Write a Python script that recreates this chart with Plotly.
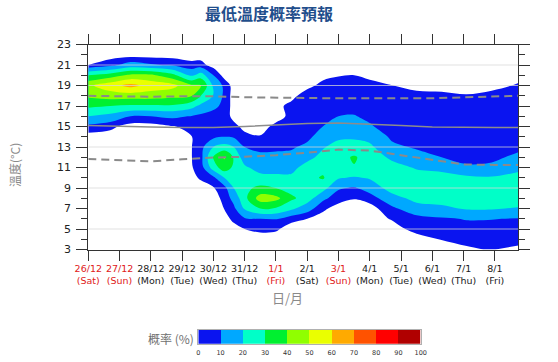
import plotly.graph_objects as go

# ---------------- data ----------------
temps = [3, 4, 5, 6, 7, 8, 9, 10, 11, 12, 13, 14, 15, 16, 17, 18, 19, 20, 21, 22, 23]
# forecast position (days after 26/12) of each probability profile
day_pos = [0, 0.7, 1.35, 2.0, 2.7, 3.3, 3.6, 4.0, 4.35, 4.65, 5.0, 5.5, 6.0, 6.5,
           7.0, 7.5, 8.0, 8.5, 9.0, 9.7, 10.5, 11.3, 12.1, 12.9, 13.75]

# probability (%) of each temperature (rows = temps) for each day position
p00 = [0, 0, 0, 0, 0, 0, 0, 0, 0, 0, 0, 0, 7.7, 20, 32, 42, 48, 30, 3, 0, 0]
p01 = [0, 0, 0, 0, 0, 0, 0, 0, 0, 0, 0, 0, 4.75, 16.7, 30, 45, 56, 35, 7, 0, 0]
p02 = [0, 0, 0, 0, 0, 0, 0, 0, 0, 0, 0, 0, 0, 10, 28.5, 45, 63, 42, 14, 0, 0]
p03 = [0, 0, 0, 0, 0, 0, 0, 0, 0, 0, 0, 0, 0, 10, 28.5, 45, 56, 42, 11, 0, 0]
p04 = [0, 0, 0, 0, 0, 0, 0, 0, 0, 0, 0, 0, 2.6, 11.8, 28.5, 43, 53, 33, 8.6, 0, 0]
p05 = [0, 0, 0, 0, 0, 0, 0, 1, 2.5, 2.8, 2.8, 2.8, 4.9, 9.5, 23.3, 40.5, 42, 17.8, 5, 0, 0]
p06 = [0, 0, 0, 0, 0, 0, 0, 4, 6, 7, 7, 6, 6, 8, 17.5, 30, 41, 25, 5.3, 0, 0]
p07 = [0, 0, 0, 0, 0, 0, 2.5, 8, 25, 31, 20, 8, 6, 7, 12, 19.5, 18, 10, 0, 0, 0]
p08 = [0, 0, 0, 0, 3.2, 5, 7, 20, 36, 41, 24, 10, 7, 8, 8, 8, 8, 0, 0, 0, 0]
p09 = [0, 0, 0, 5, 8, 13, 20, 24, 28, 29, 20, 9, 6, 0, 0, 0, 0, 0, 0, 0, 0]
p10 = [0, 0, 3, 9, 21, 27, 28, 25, 22, 14, 10, 6, 0, 0, 0, 0, 0, 0, 0, 0, 0]
p11 = [0, 0, 4.5, 10, 30, 45, 32, 24, 15, 12, 8, 3.5, 0, 0, 0, 0, 0, 0, 0, 0, 0]
p12 = [0, 0, 4, 10.5, 29, 43, 30, 23, 15, 12, 8.5, 6, 5, 0, 0, 0, 0, 0, 0, 0, 0]
p13 = [0, 0, 0, 5, 22, 32, 26, 22, 17, 12.5, 9, 6, 5, 5, 6, 0, 0, 0, 0, 0, 0]
p14 = [0, 0, 0, 3, 14, 25, 26, 27, 24, 17, 12, 8, 6, 5, 5, 8, 0, 0, 0, 0, 0]
p15 = [0, 0, 0, 0, 4.5, 12, 24, 31, 27, 23, 19, 14, 10, 7, 6, 5, 6, 0, 0, 0, 0]
p16 = [0, 0, 0, 0, 0, 6, 11, 21, 27, 27, 24, 18, 13, 10, 7, 6, 5, 2.7, 0, 0, 0]
p17 = [0, 0, 0, 0, 0, 3.3, 9, 19, 29.5, 31, 24, 18.5, 14, 10.5, 7, 6, 5, 3, 0, 0, 0]
p18 = [0, 0, 0, 0, 0, 6, 14, 21, 26, 26, 22, 17, 11, 8, 6, 5, 5, 1.5, 0, 0, 0]
p19 = [0, 0, 0, 3.5, 8, 16, 24, 26, 24, 18, 12, 8.5, 6, 5, 5, 5, 3.2, 0, 0, 0, 0]
p20 = [0, 0, 5.5, 7, 16, 23, 25, 24, 19, 13, 9, 6, 5, 5, 5, 6, 0, 0, 0, 0, 0]
p21 = [0, 3.3, 6, 9, 18, 24, 25, 24, 17, 10, 7, 6, 5, 5, 5, 5, 0, 0, 0, 0, 0]
p22 = [2, 5, 7, 10.5, 21, 25, 25, 22, 12, 6, 5, 5, 5, 5, 5, 3.5, 0, 0, 0, 0, 0]
p23 = [3.5, 5, 7.5, 10.3, 21, 25, 25, 21, 12, 8, 6, 5, 5, 5, 5, 6, 0, 0, 0, 0, 0]
p24 = [0, 7.5, 8.5, 9.5, 19, 27, 27, 24, 17, 12, 8, 6, 5, 5, 5, 5, 4, 0, 0, 0, 0]

# reference lines (daily)
line_days = [0, 1, 2, 3, 4, 5, 6, 7, 8, 9, 10, 11, 12, 13, 13.75]
mean_line = [15.1, 15.0, 14.95, 14.9, 14.9, 15.0, 15.15, 15.3, 15.35, 15.25, 15.1, 14.95, 14.9, 14.9, 14.9]
upper_line = [18.0, 17.95, 17.9, 17.95, 17.95, 17.85, 17.8, 17.8, 17.75, 17.75, 17.75, 17.75, 17.85, 17.95, 18.0]
lower_line = [11.83, 11.75, 11.6, 11.8, 11.97, 12.05, 12.2, 12.45, 12.75, 12.65, 12.2, 11.75, 11.3, 11.25, 11.25]

# axis labels
tick_days = [0, 1, 2, 3, 4, 5, 6, 7, 8, 9, 10, 11, 12, 13]
tick_dates = ["26/12", "27/12", "28/12", "29/12", "30/12", "31/12", "1/1", "2/1",
              "3/1", "4/1", "5/1", "6/1", "7/1", "8/1"]
tick_wdays = ["(Sat)", "(Sun)", "(Mon)", "(Tue)", "(Wed)", "(Thu)", "(Fri)", "(Sat)",
              "(Sun)", "(Mon)", "(Tue)", "(Wed)", "(Thu)", "(Fri)"]
tick_red = [True, True, False, False, False, False, True, False,
            True, False, False, False, False, False]
y_ticks = [3, 5, 7, 9, 11, 13, 15, 17, 19, 21, 23]
prob_levels = [0, 10, 20, 30, 40, 50, 60, 70, 80, 90, 100]
level_colors = ["#0a14f0", "#00a8ff", "#00ffc8", "#00f030", "#90ff00",
                "#eaff00", "#ffaa00", "#ff5200", "#ff0000", "#b00000"]

# ---------------- geometry (page margin removed by post_script) ----------------
W, H = 558, 362


def px(x):
    return x / W


def py(y):
    return 1 - y / H


# ---------------- build figure ----------------
cols = [p00, p01, p02, p03, p04, p05, p06, p07, p08, p09, p10, p11, p12,
        p13, p14, p15, p16, p17, p18, p19, p20, p21, p22, p23, p24]
z = [[c[i] for c in cols] for i in range(len(temps))]

fig = go.Figure()

# lowest band (blue)
fig.add_trace(go.Contour(
    x=day_pos, y=temps, z=z, autocontour=False,
    contours=dict(start=3, end=3, size=10, coloring="fill", showlines=False),
    colorscale=[[0, "rgba(255,255,255,0)"], [1, level_colors[0]]],
    line=dict(width=0, smoothing=1.0), showscale=False, hoverinfo="skip"))

# bands 10..100
n = len(level_colors) - 1
cs = [[0, "rgba(255,255,255,0)"]] + [[k / n, level_colors[k]] for k in range(1, n + 1)]
fig.add_trace(go.Contour(
    x=day_pos, y=temps, z=z, autocontour=False,
    contours=dict(start=10, end=90, size=10, coloring="fill", showlines=False),
    colorscale=cs, line=dict(width=0, smoothing=1.0), showscale=False, hoverinfo="skip"))

fig.add_trace(go.Scatter(x=line_days, y=upper_line, mode="lines",
                         line=dict(color="#8a8a8a", width=2, dash="8px,5px"), hoverinfo="skip"))
fig.add_trace(go.Scatter(x=line_days, y=lower_line, mode="lines",
                         line=dict(color="#8a8a8a", width=2, dash="8px,5px"), hoverinfo="skip"))
fig.add_trace(go.Scatter(x=line_days, y=mean_line, mode="lines",
                         line=dict(color="#8c8c8c", width=1.5), hoverinfo="skip"))

# colour key drawn as a one-row heatmap on its own axes
bar_cs = []
for k, c in enumerate(level_colors):
    bar_cs.append([k / 10, c])
    bar_cs.append([(k + 1) / 10, c])
bin_mid = [(a + b) / 2 for a, b in zip(prob_levels[:-1], prob_levels[1:])]
fig.add_trace(go.Heatmap(x=bin_mid, y=[0.5], z=[bin_mid], zmin=0, zmax=100,
                         colorscale=bar_cs, showscale=False, hoverinfo="skip",
                         xaxis="x2", yaxis="y2"))

ticktext = []
for d, w, red in zip(tick_dates, tick_wdays, tick_red):
    col = "#e02020" if red else "#1a1a1a"
    ticktext.append(f'<span style="color:{col}">{d}</span><br><span style="color:{col}">{w}</span>')

fig.update_layout(
    width=W, height=H, margin=dict(l=0, r=0, t=0, b=0, autoexpand=False),
    paper_bgcolor="white", plot_bgcolor="white", showlegend=False,
    font=dict(family="DejaVu Sans", color="#1a1a1a"),
    xaxis=dict(domain=[px(88.3), px(518.3)], range=[0, 13.75], tickvals=tick_days,
               ticktext=ticktext, ticks="outside", ticklen=10, tickcolor="#333",
               showline=True, linecolor="#333", linewidth=1, mirror="ticks",
               showgrid=False, zeroline=False, automargin=False, tickfont=dict(size=9.5)),
    yaxis=dict(domain=[py(249.5), py(44.5)], range=[3, 23], tickvals=y_ticks,
               ticks="outside", ticklen=11, tickcolor="#333", showline=True,
               linecolor="#333", linewidth=1, mirror="ticks", showgrid=False,
               zeroline=False, automargin=False, ticklabelstandoff=3,
               tickfont=dict(size=11, color="#222"),
               minor=dict(dtick=1, ticks="outside", ticklen=6, tickcolor="#333", showgrid=False)),
    xaxis2=dict(domain=[px(198.3), px(420.7)], range=[0, 100], anchor="y2",
                tickvals=prob_levels, ticks="", showline=True, mirror=True,
                linecolor="#b0b0b0", linewidth=1, showgrid=False, zeroline=False,
                automargin=False, ticklabelstandoff=2, fixedrange=True,
                tickfont=dict(size=6.5, color="#333", family="DejaVu Sans")),
    yaxis2=dict(domain=[py(343.7), py(330)], range=[0, 1], anchor="x2",
                showticklabels=False, ticks="", showline=True, mirror=True,
                linecolor="#b0b0b0", linewidth=1, showgrid=False, zeroline=False,
                automargin=False, fixedrange=True),
)

for gy in [5, 9, 13, 19, 21]:
    fig.add_shape(type="line", xref="x", yref="y", x0=0, x1=13.75, y0=gy, y1=gy,
                  line=dict(color="rgba(215,215,215,0.75)", width=1), layer="above")

fig.add_annotation(text="<b>最低溫度概率預報</b>", xref="paper", yref="paper",
                   x=px(269), y=py(13), showarrow=False, xanchor="center", yanchor="middle",
                   font=dict(family="Noto Sans CJK TC", size=16, color="#1f4e8c"))
fig.add_annotation(text="溫度(°C)", xref="paper", yref="paper", x=px(14),
                   y=py(165), textangle=-90, showarrow=False, xanchor="center",
                   yanchor="middle",
                   font=dict(family="Noto Sans CJK TC", size=12, color="#8a8a8a"))
fig.add_annotation(text="日/月", xref="paper", yref="paper", x=px(287),
                   y=py(297), showarrow=False, xanchor="center", yanchor="middle",
                   font=dict(family="Noto Sans CJK TC", size=13, color="#8a8a8a"))
fig.add_annotation(text="概率 (%)", xref="paper", yref="paper", x=px(171),
                   y=py(338), showarrow=False, xanchor="center", yanchor="middle",
                   font=dict(family="Noto Sans CJK TC", size=12, color="#707070"))

fig.write_html("out.html", config={"displayModeBar": False},
               post_script="document.body.style.margin='0px';")
